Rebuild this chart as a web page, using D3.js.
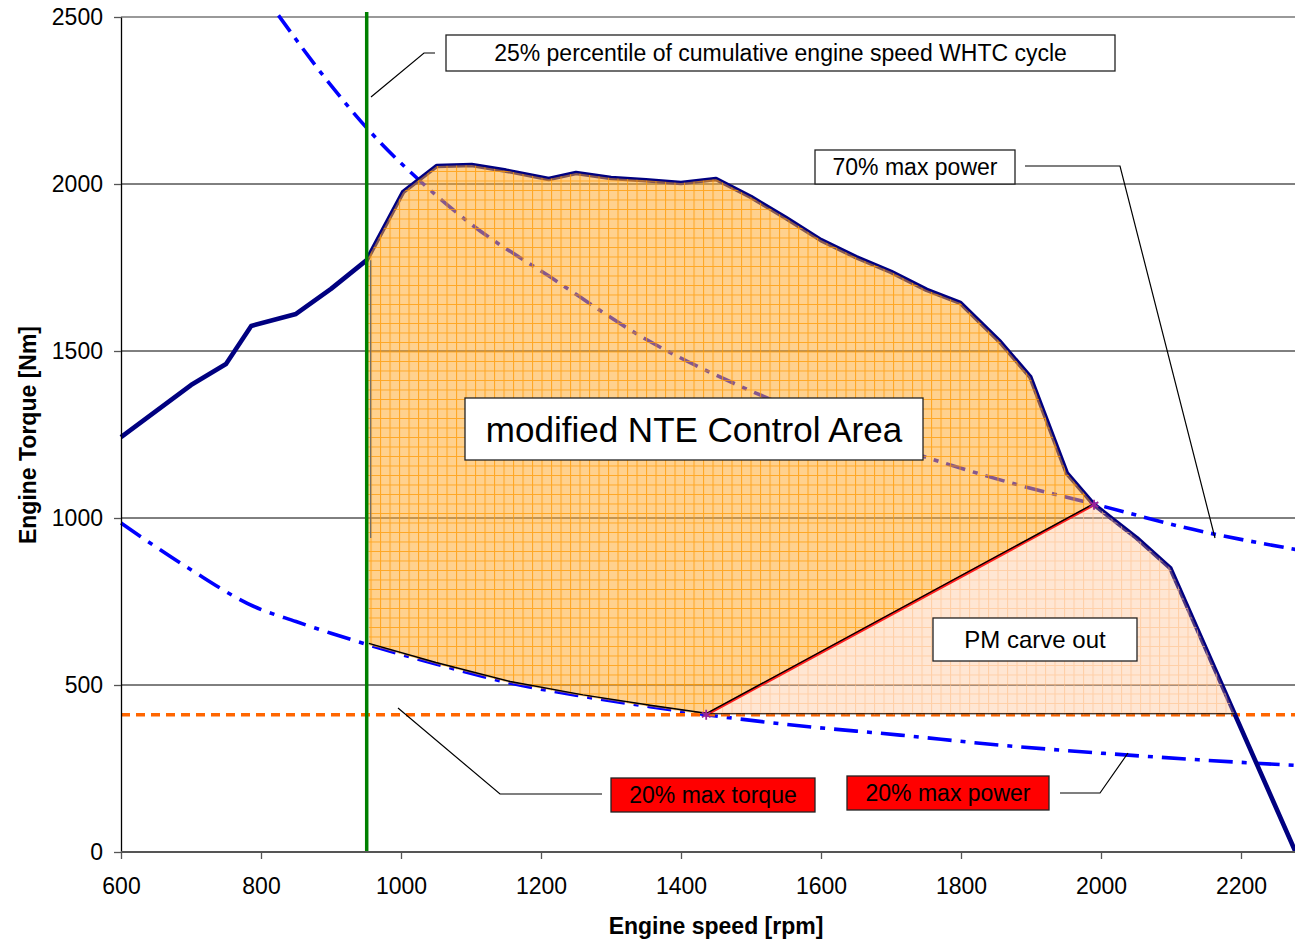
<!DOCTYPE html>
<html>
<head>
<meta charset="utf-8">
<script src="https://cdn.jsdelivr.net/npm/d3@7"></script>
<style>
  html, body { margin: 0; padding: 0; background: #fff; }
  svg { display: block; }
  text { font-family: "Liberation Sans", Arial, sans-serif; }
</style>
</head>
<body>
<svg id="chart" width="1295" height="941"></svg>
<script>
// Full-load torque curve of the engine
const fullLoadRpm    = [600, 650, 700, 750, 786, 850, 900, 951, 1003, 1051, 1101, 1150, 1211, 1250, 1300, 1350, 1400, 1450, 1500, 1550, 1600, 1650, 1700, 1751, 1799, 1856, 1899, 1951, 1990, 2051, 2099, 2278];
const fullLoadTorque = [1242, 1320, 1398, 1461, 1575, 1611, 1686, 1772, 1976, 2054, 2057, 2040, 2015, 2033, 2018, 2011, 2003, 2015, 1961, 1898, 1832, 1781, 1737, 1683, 1644, 1527, 1422, 1135, 1040, 940, 850, 0];

// 70 % max power line
const power70Rpm    = [825, 900, 951, 1040, 1100, 1213, 1350, 1481, 1600, 1756, 1880, 1990, 2131, 2280];
const power70Torque = [2505, 2295, 2168, 1985, 1880, 1722, 1535, 1398, 1295, 1178, 1100, 1042, 966, 905];

// 20 % max power line
const power20Rpm    = [600, 700, 790, 850, 900, 954, 1050, 1156, 1260, 1356, 1436, 1550, 1713, 1856, 2000, 2140, 2280];
const power20Torque = [985, 845, 735, 690, 655, 620, 563, 506, 466, 435, 411, 382, 350, 320, 296, 276, 259];

// 20 % max torque level and 25 % percentile engine speed of the WHTC
const torque20 = 411;
const whtc25Rpm = 951;

// Corners of the carve-out diagonal
const carveLowRpm = 1436;
const carveHighRpm = 1990;

const xTicks = [600, 800, 1000, 1200, 1400, 1600, 1800, 2000, 2200];
const yTicks = [0, 500, 1000, 1500, 2000, 2500];

const svg = d3.select("#chart");
const x = d3.scaleLinear().domain([600, 2280]).range([121, 1297]);
const y = d3.scaleLinear().domain([0, 2500]).range([852, 17]);

const fullLoad = fullLoadRpm.map((r, i) => [r, fullLoadTorque[i]]);
const p70 = power70Rpm.map((r, i) => [r, power70Torque[i]]);
const p20 = power20Rpm.map((r, i) => [r, power20Torque[i]]);

const interp = (pts, r) => {
  for (let i = 1; i < pts.length; i++) {
    if (r <= pts[i][0]) {
      const [r0, t0] = pts[i - 1], [r1, t1] = pts[i];
      return t0 + (t1 - t0) * (r - r0) / (r1 - r0);
    }
  }
  return pts[pts.length - 1][1];
};
// speed where the full-load curve falls to the 20 % torque level
const fallRpm = (() => {
  for (let i = 1; i < fullLoad.length; i++) {
    const [r0, t0] = fullLoad[i - 1], [r1, t1] = fullLoad[i];
    if (t0 >= torque20 && t1 <= torque20 && r0 > 1500) return r0 + (r1 - r0) * (t0 - torque20) / (t0 - t1);
  }
})();

// hatch patterns
const defs = svg.append("defs");
const pat1 = defs.append("pattern").attr("id", "nteHatch").attr("patternUnits", "userSpaceOnUse")
  .attr("width", 9.5).attr("height", 9.5);
pat1.append("rect").attr("width", 9.5).attr("height", 9.5).attr("fill", "#ffa726").attr("fill-opacity", 0.52);
pat1.append("path").attr("d", "M0 0.5H9.5M0.5 0V9.5").attr("stroke", "#ff9800").attr("stroke-width", 1.1).attr("stroke-opacity", 0.75);
const pat2 = defs.append("pattern").attr("id", "carveHatch").attr("patternUnits", "userSpaceOnUse")
  .attr("width", 9.5).attr("height", 9.5);
pat2.append("rect").attr("width", 9.5).attr("height", 9.5).attr("fill", "#ffb27a").attr("fill-opacity", 0.33);
pat2.append("path").attr("d", "M0 0.5H9.5M0.5 0V9.5").attr("stroke", "#ffc08a").attr("stroke-width", 1.1).attr("stroke-opacity", 0.6);

// horizontal grid
svg.append("g").selectAll("line").data(yTicks.filter(v => v > 0)).join("line")
  .attr("x1", x(600)).attr("x2", 1295)
  .attr("y1", d => y(d)).attr("y2", d => y(d))
  .attr("stroke", d => d === 2500 ? "#777" : "#000").attr("stroke-width", d => d === 2500 ? 1.5 : 1);

const line = d3.line().x(d => x(d[0])).y(d => y(d[1]));
const smooth = d3.line().x(d => x(d[0])).y(d => y(d[1])).curve(d3.curveMonotoneX);

// power lines
svg.append("path").attr("d", smooth(p70)).attr("fill", "none").attr("stroke", "#0000ff")
  .attr("stroke-width", 3.6).attr("stroke-dasharray", "20,8,5,8");
svg.append("path").attr("d", smooth(p20)).attr("fill", "none").attr("stroke", "#0000ff")
  .attr("stroke-width", 3.6).attr("stroke-dasharray", "24,9,5,9");

// 20 % max torque level
svg.append("line").attr("x1", x(600)).attr("x2", 1295).attr("y1", y(torque20)).attr("y2", y(torque20))
  .attr("stroke", "#ff6600").attr("stroke-width", 3.6).attr("stroke-dasharray", "9,6");

// full-load curve
svg.append("path").attr("d", line(fullLoad)).attr("fill", "none").attr("stroke", "#000080")
  .attr("stroke-width", 4.6).attr("stroke-linejoin", "round");

// modified NTE control area
const nteTop = fullLoad.filter(d => d[0] >= whtc25Rpm && d[0] <= carveHighRpm);
const nteBottom = p20.filter(d => d[0] > whtc25Rpm && d[0] < carveLowRpm).reverse();
const ntePoly = [...nteTop, [carveLowRpm, torque20], ...nteBottom, [whtc25Rpm + 3, interp(p20, whtc25Rpm + 3)]];
svg.append("path").attr("d", line(ntePoly) + "Z").attr("fill", "url(#nteHatch)");

// PM carve out area
const carveRight = fullLoad.filter(d => d[0] > carveHighRpm && d[0] < fallRpm);
const carvePoly = [[carveLowRpm, torque20], [carveHighRpm, interp(fullLoad, carveHighRpm)], ...carveRight, [fallRpm, torque20]];
svg.append("path").attr("d", line(carvePoly) + "Z").attr("fill", "url(#carveHatch)");

// outlines
const lowerEdge = [[whtc25Rpm + 3, interp(p20, whtc25Rpm + 3)], ...p20.filter(d => d[0] > whtc25Rpm + 3 && d[0] < carveLowRpm), [carveLowRpm, torque20]];
svg.append("path").attr("d", line(lowerEdge)).attr("fill", "none").attr("stroke", "#000").attr("stroke-width", 1.4)
  .attr("transform", "translate(0,-1.5)");
const diag = [[carveLowRpm, torque20], [carveHighRpm, interp(fullLoad, carveHighRpm)]];
svg.append("path").attr("d", line(diag)).attr("fill", "none").attr("stroke", "#ff2020").attr("stroke-width", 3);
svg.append("path").attr("d", line(diag)).attr("fill", "none").attr("stroke", "#000").attr("stroke-width", 1.4)
  .attr("transform", "translate(0,-1)");
svg.append("path").attr("d", line([[carveLowRpm, torque20], [fallRpm, torque20]]))
  .attr("fill", "none").attr("stroke", "#000").attr("stroke-width", 1.2).attr("transform", "translate(0,-1)");
svg.append("line").attr("x1", x(whtc25Rpm) + 4).attr("x2", x(whtc25Rpm) + 4)
  .attr("y1", y(interp(fullLoad, whtc25Rpm))).attr("y2", y(940)).attr("stroke", "#666").attr("stroke-width", 1.2);

// 25 % percentile speed line
svg.append("line").attr("x1", x(whtc25Rpm)).attr("x2", x(whtc25Rpm)).attr("y1", 12).attr("y2", y(0))
  .attr("stroke", "#008000").attr("stroke-width", 3.5);

// corner markers
const star = d3.symbol().type(d3.symbolAsterisk).size(70);
diag.forEach(d => {
  svg.append("path").attr("d", star()).attr("transform", `translate(${x(d[0])},${y(d[1])})`)
    .attr("fill", "none").attr("stroke", "#992299").attr("stroke-width", 1.8);
});

// axes
const fmt = d3.format("d");
const yAxis = svg.append("g").attr("transform", `translate(${x(600)},0)`)
  .call(d3.axisLeft(y).tickValues(yTicks).tickFormat(fmt).tickSize(7).tickSizeOuter(0).tickPadding(11));
const xAxis = svg.append("g").attr("transform", `translate(0,${y(0)})`)
  .call(d3.axisBottom(x).tickValues(xTicks).tickFormat(fmt).tickSize(7).tickSizeOuter(0).tickPadding(19));
xAxis.select(".domain").attr("d", `M${x(600)},0H1295`).attr("stroke", "#555").attr("stroke-width", 1.8);
yAxis.select(".domain").attr("stroke", "#000").attr("stroke-width", 1.3);
[xAxis, yAxis].forEach(a => {
  a.selectAll(".tick line").attr("stroke", "#555").attr("stroke-width", 1.3);
  a.selectAll("text").attr("font-size", 23).attr("fill", "#000")
    .style("font-family", '"Liberation Sans", Arial, sans-serif');
});

svg.append("text").attr("x", 716).attr("y", 934).attr("text-anchor", "middle")
  .attr("font-size", 23).attr("font-weight", "bold").text("Engine speed [rpm]");
svg.append("text").attr("transform", "translate(36,435) rotate(-90)").attr("text-anchor", "middle")
  .attr("font-size", 23).attr("font-weight", "bold").text("Engine Torque [Nm]");

// leader lines
const leader = pts => svg.append("path").attr("d", d3.line()(pts)).attr("fill", "none")
  .attr("stroke", "#000").attr("stroke-width", 1.2);
leader([[435, 53], [424, 53], [371, 97]]);
leader([[1025, 166], [1120, 166], [1215, 538]]);
leader([[602, 794], [500, 794], [398, 708]]);
leader([[1060, 793], [1100, 793], [1128, 753]]);

// label boxes
const box = (bx, by, w, h, label, size, fill) => {
  svg.append("rect").attr("x", bx).attr("y", by).attr("width", w).attr("height", h)
    .attr("fill", fill).attr("stroke", "#222").attr("stroke-width", 1.3);
  svg.append("text").attr("x", bx + w / 2).attr("y", by + h / 2).attr("dy", "0.36em")
    .attr("text-anchor", "middle").attr("font-size", size).attr("fill", "#000").text(label);
};
box(446, 35, 669, 36, "25% percentile of cumulative engine speed WHTC cycle", 23, "#fff");
box(815, 150, 200, 34, "70% max power", 23, "#fff");
box(465, 398, 458, 62, "modified NTE Control Area", 35, "#fff");
box(933, 618, 204, 43, "PM carve out", 24, "#fff");
box(611, 778, 204, 34, "20% max torque", 23, "#ff0000");
box(847, 776, 202, 34, "20% max power", 23, "#ff0000");
</script>
</body>
</html>
